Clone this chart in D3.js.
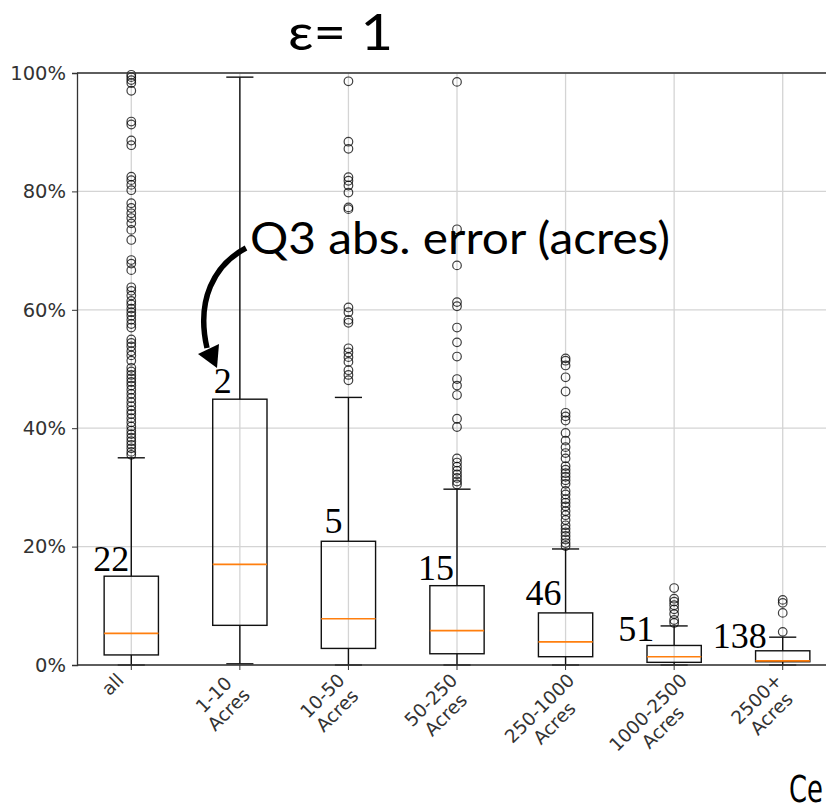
<!DOCTYPE html>
<html>
<head>
<meta charset="utf-8">
<title>eps = 1 boxplots</title>
<script src="https://d3js.org/d3.v7.min.js"></script>
<style>
  body { margin: 0; background: #fff; }
  svg { display: block; }
</style>
</head>
<body>
<svg id="chart" width="826" height="807"></svg>
<script>
// categories and tick labels (lines of each rotated label)
var cats = ["all", "1-10", "10-50", "50-250", "250-1000", "1000-2500", "2500+"];
var catLabels = [["all"], ["1-10", "Acres"], ["10-50", "Acres"], ["50-250", "Acres"],
                 ["250-1000", "Acres"], ["1000-2500", "Acres"], ["2500+", "Acres"]];

// box statistics, in percent
var whiskLo = [0, 0.2, 0, 0, 0, 0, 0];
var q1      = [1.7, 6.7, 2.8, 1.9, 1.4, 0.45, 0.55];
var med     = [5.35, 17.0, 7.8, 5.8, 3.9, 1.4, 0.7];
var q3      = [15.0, 44.9, 20.9, 13.4, 8.8, 3.3, 2.4];
var whiskHi = [35.0, 99.3, 45.2, 29.7, 19.6, 6.6, 4.7];

// fliers, in percent
var fliersAll = [99.7, 99.3, 98.8, 98.3, 97.0, 91.8, 91.3, 88.6, 87.8, 82.5, 81.9, 81.1, 80.2,
  78.0, 77.2, 76.3, 75.5, 74.6, 73.5, 71.8, 68.4, 67.8, 66.7, 63.8, 63.2, 62.4, 61.5, 60.9,
  60.2, 59.6, 59.0, 58.3, 57.6, 57.0, 55.0, 54.4, 53.8, 53.0, 52.3, 51.4, 50.2, 49.6, 49.0,
  48.4, 47.8, 47.2, 46.5, 45.8, 45.1, 44.4, 43.7, 43.0, 42.4, 41.7, 41.0, 40.3, 39.6, 39.0,
  38.4, 37.8, 37.2, 36.6, 36.0, 35.5];
var fliers1to10 = [];
var fliers10to50 = [98.6, 88.4, 87.2, 82.4, 81.8, 81.0, 79.8, 77.3, 77.0, 60.4, 59.6, 58.3,
  57.8, 53.5, 52.8, 52.0, 51.2, 49.8, 49.0, 48.1];
var fliers50to250 = [98.5, 73.6, 67.5, 61.3, 60.6, 57.0, 54.5, 52.1, 48.3, 47.2, 45.6, 41.6,
  40.2, 34.9, 34.2, 33.5, 32.8, 32.2, 31.6, 31.0, 30.5];
var fliers250to1000 = [51.8, 51.4, 50.6, 48.6, 46.2, 42.6, 42.0, 41.3, 39.2, 37.9, 36.8, 35.8,
  34.9, 33.6, 33.0, 32.4, 31.8, 31.2, 30.6, 29.4, 28.8, 28.0, 27.4, 26.8, 26.0, 25.3, 24.5,
  23.6, 23.0, 22.4, 21.8, 21.2, 20.6, 20.1];
var fliers1000to2500 = [13.0, 11.2, 10.7, 10.1, 9.4, 8.6, 7.6, 7.1];
var fliers2500plus = [11.0, 10.5, 8.8, 5.6];
var fliers = [fliersAll, fliers1to10, fliers10to50, fliers50to250, fliers250to1000,
  fliers1000to2500, fliers2500plus];

// Q3 absolute error annotations (acres)
var q3Acres = ["22", "2", "5", "15", "46", "51", "138"];
var yTicks = [0, 20, 40, 60, 80, 100];

// layout
var svg = d3.select("#chart");
var pL = 77, pT = 73, pB = 665, pR = 837;

var x = d3.scaleBand().domain(cats).range([pL, pR]);
var y = d3.scaleLinear().domain([0, 100]).range([pB, pT]);
var cx = function(c) { return x(c) + x.bandwidth() / 2; };
var boxW = x.bandwidth() * 0.5;

svg.append("rect").attr("width", 826).attr("height", 807).attr("fill", "#fff");

// grid
var grid = svg.append("g");
grid.selectAll(".hg").data(yTicks).enter().append("line")
  .attr("x1", pL).attr("x2", pR)
  .attr("y1", function(d) { return y(d); }).attr("y2", function(d) { return y(d); })
  .attr("stroke", "#d4d4d4").attr("stroke-width", 1.3);
grid.selectAll(".vg").data(cats).enter().append("line")
  .attr("x1", cx).attr("x2", cx).attr("y1", pT).attr("y2", pB)
  .attr("stroke", "#d4d4d4").attr("stroke-width", 1.3);

// boxes
var boxes = svg.append("g").selectAll("g").data(cats).enter().append("g");
boxes.each(function(c, i) {
  var g = d3.select(this), xc = cx(c);
  g.append("line").attr("x1", xc).attr("x2", xc).attr("y1", y(q3[i])).attr("y2", y(whiskHi[i]))
    .attr("stroke", "#111").attr("stroke-width", 1.4);
  g.append("line").attr("x1", xc).attr("x2", xc).attr("y1", y(q1[i])).attr("y2", y(whiskLo[i]))
    .attr("stroke", "#111").attr("stroke-width", 1.4);
  [whiskHi[i], whiskLo[i]].forEach(function(v) {
    g.append("line").attr("x1", xc - boxW / 4).attr("x2", xc + boxW / 4)
      .attr("y1", y(v)).attr("y2", y(v)).attr("stroke", "#111").attr("stroke-width", 1.4);
  });
  g.append("rect").attr("x", xc - boxW / 2).attr("width", boxW)
    .attr("y", y(q3[i])).attr("height", y(q1[i]) - y(q3[i]))
    .attr("fill", "none").attr("stroke", "#111").attr("stroke-width", 1.4);
  g.append("line").attr("x1", xc - boxW / 2).attr("x2", xc + boxW / 2)
    .attr("y1", y(med[i])).attr("y2", y(med[i]))
    .attr("stroke", "#ff7f0e").attr("stroke-width", 1.6);
  g.selectAll("circle").data(fliers[i]).enter().append("circle")
    .attr("cx", xc).attr("cy", function(d) { return y(d); }).attr("r", 4.3)
    .attr("fill", "none").attr("stroke", "#000").attr("stroke-opacity", 0.75)
    .attr("stroke-width", 1.2);
});

// spines
svg.append("line").attr("x1", pL).attr("x2", pR).attr("y1", pT).attr("y2", pT)
  .attr("stroke", "#333").attr("stroke-width", 1.3);
svg.append("line").attr("x1", pL).attr("x2", pR).attr("y1", pB).attr("y2", pB)
  .attr("stroke", "#333").attr("stroke-width", 1.3);

// y axis
var yAxis = svg.append("g").attr("transform", "translate(" + pL + ",0)")
  .call(d3.axisLeft(y).tickValues(yTicks).tickSize(5).tickPadding(6)
    .tickFormat(function(d) { return d + "%"; }));
yAxis.select(".domain").attr("stroke", "#333").attr("stroke-width", 1.3);
yAxis.selectAll(".tick line").attr("stroke", "#333");
yAxis.selectAll("text").attr("font-family", "DejaVu Sans").attr("font-size", 19.5)
  .attr("fill", "#333");

// x ticks
svg.append("g").selectAll("line").data(cats).enter().append("line")
  .attr("x1", cx).attr("x2", cx).attr("y1", pB).attr("y2", pB + 5)
  .attr("stroke", "#333");

// rotated x labels
var lineH = 21, c45 = Math.SQRT1_2;
catLabels.forEach(function(lines, i) {
  var g = svg.append("g");
  var texts = g.selectAll("text").data(lines).enter().append("text")
    .attr("font-family", "DejaVu Sans").attr("font-size", 18.5).attr("fill", "#333")
    .attr("text-anchor", "middle").text(function(d) { return d; });
  var W = d3.max(texts.nodes(), function(n) { return n.getComputedTextLength(); });
  var H = lines.length * lineH;
  texts.attr("x", W / 2).attr("y", function(d, j) { return (j + 1) * lineH - 5; });
  var tx = cx(cats[i]) - 18 - c45 * (W + H) / 2, ty = pB + 5 + c45 * W;
  g.attr("transform", "translate(" + tx + "," + ty + ") rotate(-45)");
});

// Q3 annotations
var annDx = [-2, -8, -6, -3, -4, -20, -16];
var annDy = [5, 6, 8, 6, 8, 4, 2.5];
svg.append("g").selectAll("text").data(q3Acres).enter().append("text")
  .attr("x", function(d, i) { return cx(cats[i]) + annDx[i]; })
  .attr("y", function(d, i) { return y(q3[i]) - annDy[i]; })
  .attr("text-anchor", "end").attr("font-family", "Liberation Serif")
  .attr("font-size", 36).attr("fill", "#000").text(function(d) { return d; });

// title and callout
svg.append("text").attr("x", 288).attr("y", 50).attr("font-family", "Lato")
  .attr("font-size", 50).attr("fill", "#000")
  .attr("textLength", 105).attr("lengthAdjust", "spacingAndGlyphs").text("ε= 1");
svg.append("text").attr("x", 250).attr("y", 254).attr("font-family", "Lato")
  .attr("font-size", 44).attr("fill", "#000")
  .attr("textLength", 420).attr("lengthAdjust", "spacingAndGlyphs").text("Q3 abs. error (acres)");

svg.append("path").attr("d", "M246,248 C214,265 196,300 207,348")
  .attr("fill", "none").attr("stroke", "#000").attr("stroke-width", 5.5);
svg.append("path").attr("d", "M198,354 L219,344 L217,368 Z").attr("fill", "#000");

svg.append("text").attr("x", 789).attr("y", 802).attr("font-family", "DejaVu Sans")
  .attr("font-size", 38).attr("fill", "#000")
  .attr("textLength", 34).attr("lengthAdjust", "spacingAndGlyphs").text("Ce");
</script>
</body>
</html>
